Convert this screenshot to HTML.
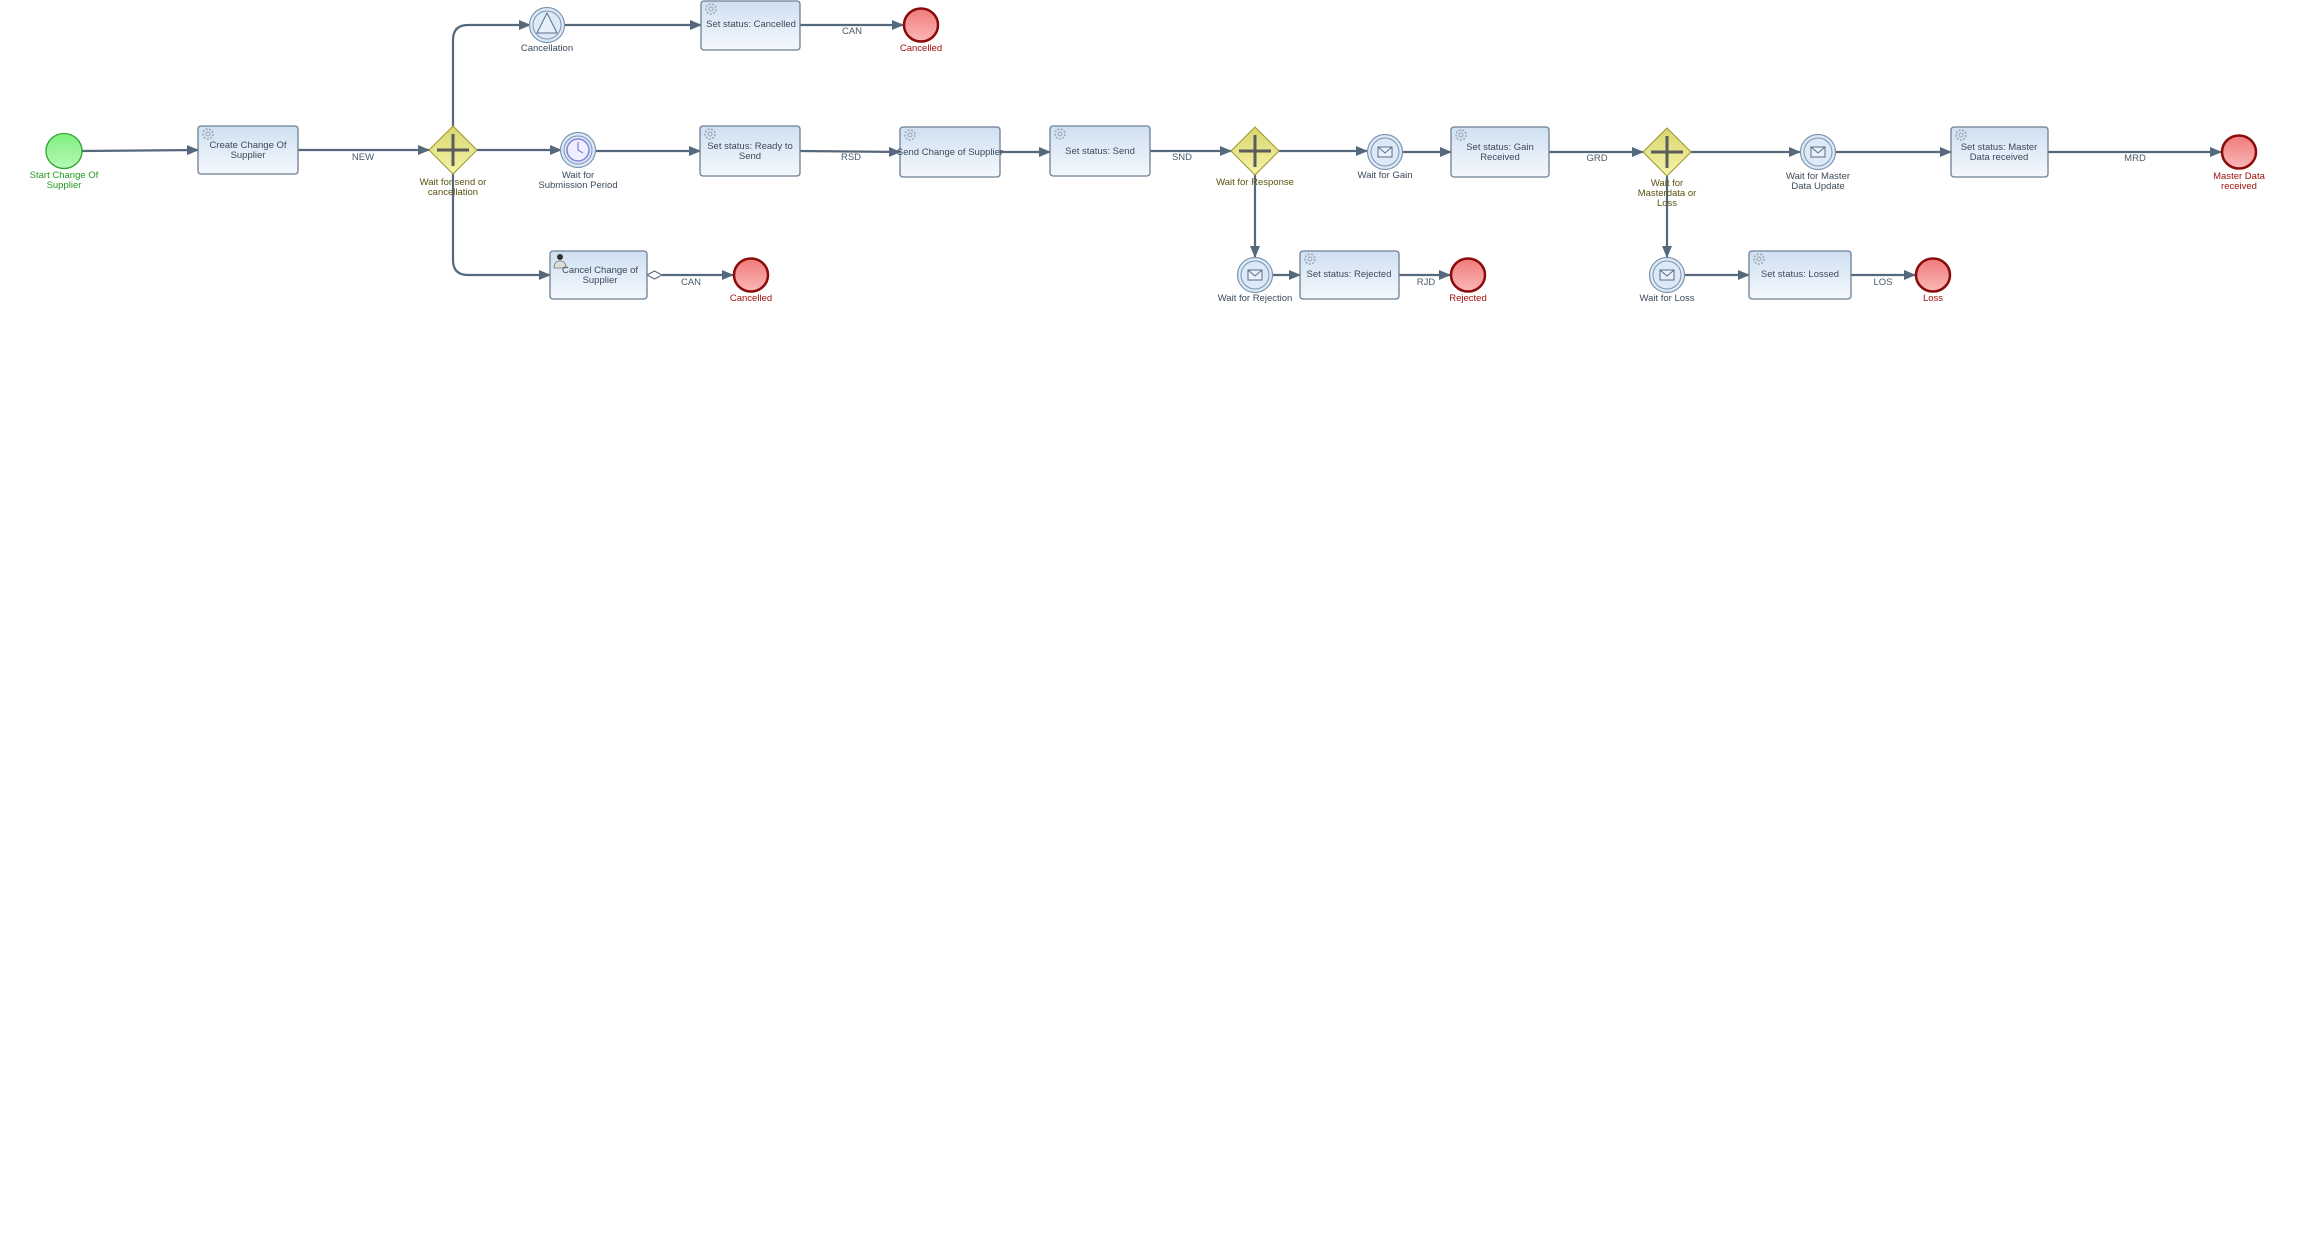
<!DOCTYPE html>
<html><head><meta charset="utf-8"><style>
html,body{margin:0;padding:0;background:#fff;}
svg{display:block;}
text{font-family:"Liberation Sans",sans-serif;font-size:9.5px;text-anchor:middle;}
.t{fill:#3d4a5a;}
.lbl{fill:#4a5a6c;}
.g{fill:#1f9a1f;}
.r{fill:#a01010;}
.y{fill:#5a5410;}
.ln{stroke:#56687b;stroke-width:2.2;fill:none;}
.task{fill:url(#tg);stroke:#6c7f93;stroke-width:1.3;}
.ev{fill:#dce9f6;stroke:#7d95b0;stroke-width:1.2;}
.end{fill:url(#rg);stroke:#8b0a0a;stroke-width:2.5;}
.gw{fill:url(#yg);stroke:#9a9630;stroke-width:1;}
</style></head><body>
<svg width="2318" height="1235" viewBox="0 0 2318 1235" xmlns="http://www.w3.org/2000/svg">
<defs>
<linearGradient id="tg" x1="0" y1="0" x2="0" y2="1"><stop offset="0" stop-color="#cfe0f2"/><stop offset="1" stop-color="#f4f8fc"/></linearGradient>
<linearGradient id="rg" x1="0" y1="0" x2="0" y2="1"><stop offset="0" stop-color="#f07a7a"/><stop offset="1" stop-color="#fbb8b8"/></linearGradient>
<linearGradient id="gg" x1="0" y1="0" x2="0" y2="1"><stop offset="0" stop-color="#7ef07e"/><stop offset="1" stop-color="#b8f8b8"/></linearGradient>
<linearGradient id="yg" x1="0" y1="0" x2="0" y2="1"><stop offset="0" stop-color="#d8d670"/><stop offset="1" stop-color="#f6f4a8"/></linearGradient>
<marker id="a" markerWidth="12" markerHeight="10" refX="11" refY="5" orient="auto" markerUnits="userSpaceOnUse"><path d="M0,0 L12,5 L0,10 Z" fill="#56687b"/></marker>
<g id="gear"><circle r="5" fill="none" stroke="#9aa5b0" stroke-width="1.5" stroke-dasharray="2 1.5"/><circle r="2" fill="none" stroke="#9aa5b0" stroke-width="1"/></g>
<g id="env"><rect x="-7" y="-5" width="14" height="10" fill="#e8f1fa" stroke="#5a6d85" stroke-width="1"/><path d="M-7,-5 L0,1 L7,-5" fill="none" stroke="#5a6d85" stroke-width="1"/></g>
</defs>

<!-- connectors -->
<path class="ln" d="M82,151 L198,150" marker-end="url(#a)"/>
<path class="ln" d="M298,150 L429,150" marker-end="url(#a)"/>
<path class="ln" d="M477,150 L561,150" marker-end="url(#a)"/>
<path class="ln" d="M595,151 L700,151" marker-end="url(#a)"/>
<path class="ln" d="M453,126 L453,40 Q453,25 468,25 L530,25" marker-end="url(#a)"/>
<path class="ln" d="M564,25 L701,25" marker-end="url(#a)"/>
<path class="ln" d="M800,25 L903,25" marker-end="url(#a)"/>
<path class="ln" d="M453,174 L453,260 Q453,275 468,275 L550,275" marker-end="url(#a)"/>
<path class="ln" d="M662,275 L733,275" marker-end="url(#a)"/>
<path d="M647,275 L654.5,271 L662,275 L654.5,279 Z" fill="#fff" stroke="#56687b" stroke-width="1"/>
<path class="ln" d="M800,151 L900,152" marker-end="url(#a)"/>
<path class="ln" d="M1000,152 L1050,152" marker-end="url(#a)"/>
<path class="ln" d="M1150,151 L1231,151" marker-end="url(#a)"/>
<path class="ln" d="M1279,151 L1367,151" marker-end="url(#a)"/>
<path class="ln" d="M1403,152 L1451,152" marker-end="url(#a)"/>
<path class="ln" d="M1255,175 L1255,257" marker-end="url(#a)"/>
<path class="ln" d="M1273,275 L1300,275" marker-end="url(#a)"/>
<path class="ln" d="M1399,275 L1450,275" marker-end="url(#a)"/>
<path class="ln" d="M1549,152 L1643,152" marker-end="url(#a)"/>
<path class="ln" d="M1691,152 L1800,152" marker-end="url(#a)"/>
<path class="ln" d="M1836,152 L1951,152" marker-end="url(#a)"/>
<path class="ln" d="M2048,152 L2221,152" marker-end="url(#a)"/>
<path class="ln" d="M1667,176 L1667,257" marker-end="url(#a)"/>
<path class="ln" d="M1685,275 L1749,275" marker-end="url(#a)"/>
<path class="ln" d="M1851,275 L1915,275" marker-end="url(#a)"/>

<!-- labels on flows -->
<text class="lbl" x="363" y="160">NEW</text>
<text class="lbl" x="852" y="34">CAN</text>
<text class="lbl" x="691" y="285">CAN</text>
<text class="lbl" x="851" y="160">RSD</text>
<text class="lbl" x="1182" y="160">SND</text>
<text class="lbl" x="1426" y="285">RJD</text>
<text class="lbl" x="1597" y="161">GRD</text>
<text class="lbl" x="2135" y="161">MRD</text>
<text class="lbl" x="1883" y="285">LOS</text>

<!-- start -->
<ellipse cx="64" cy="151" rx="18" ry="17.5" fill="url(#gg)" stroke="#2aa52a" stroke-width="1.3"/>
<text class="g" x="64" y="178">Start Change Of</text>
<text class="g" x="64" y="188">Supplier</text>

<!-- tasks -->
<rect class="task" x="198" y="126" width="100" height="48" rx="3"/><use href="#gear" x="208" y="134"/>
<text class="t" x="248" y="148">Create Change Of</text><text class="t" x="248" y="158">Supplier</text>

<rect class="task" x="701" y="1" width="99" height="49" rx="3"/><use href="#gear" x="711" y="9"/>
<text class="t" x="751" y="27">Set status: Cancelled</text>

<rect class="task" x="700" y="126" width="100" height="50" rx="3"/><use href="#gear" x="710" y="134"/>
<text class="t" x="750" y="149">Set status: Ready to</text><text class="t" x="750" y="159">Send</text>

<rect class="task" x="550" y="251" width="97" height="48" rx="3"/>
<circle cx="560" cy="257" r="3" fill="#333"/><path d="M554,268 Q554,261 560,261 Q566,261 566,268 Z" fill="#ddd" stroke="#777" stroke-width="0.8"/>
<text class="t" x="600" y="273">Cancel Change of</text><text class="t" x="600" y="283">Supplier</text>

<rect class="task" x="900" y="127" width="100" height="50" rx="3"/><use href="#gear" x="910" y="135"/>
<text class="t" x="950" y="155">Send Change of Supplier</text>

<rect class="task" x="1050" y="126" width="100" height="50" rx="3"/><use href="#gear" x="1060" y="134"/>
<text class="t" x="1100" y="154">Set status: Send</text>

<rect class="task" x="1451" y="127" width="98" height="50" rx="3"/><use href="#gear" x="1461" y="135"/>
<text class="t" x="1500" y="150">Set status: Gain</text><text class="t" x="1500" y="160">Received</text>

<rect class="task" x="1300" y="251" width="99" height="48" rx="3"/><use href="#gear" x="1310" y="259"/>
<text class="t" x="1349" y="277">Set status: Rejected</text>

<rect class="task" x="1951" y="127" width="97" height="50" rx="3"/><use href="#gear" x="1961" y="135"/>
<text class="t" x="1999" y="150">Set status: Master</text><text class="t" x="1999" y="160">Data received</text>

<rect class="task" x="1749" y="251" width="102" height="48" rx="3"/><use href="#gear" x="1759" y="259"/>
<text class="t" x="1800" y="277">Set status: Lossed</text>

<!-- gateways -->
<g transform="translate(453,150)"><path class="gw" d="M0,-24 L24,0 L0,24 L-24,0 Z"/><path d="M-16,0 L16,0 M0,-16 L0,16" stroke="#5c5c5c" stroke-width="3"/></g>
<text class="y" x="453" y="185">Wait for send or</text><text class="y" x="453" y="195">cancellation</text>
<g transform="translate(1255,151)"><path class="gw" d="M0,-24 L24,0 L0,24 L-24,0 Z"/><path d="M-16,0 L16,0 M0,-16 L0,16" stroke="#5c5c5c" stroke-width="3"/></g>
<text class="y" x="1255" y="185">Wait for Response</text>
<g transform="translate(1667,152)"><path class="gw" d="M0,-24 L24,0 L0,24 L-24,0 Z"/><path d="M-16,0 L16,0 M0,-16 L0,16" stroke="#5c5c5c" stroke-width="3"/></g>
<text class="y" x="1667" y="186">Wait for</text><text class="y" x="1667" y="196">Masterdata or</text><text class="y" x="1667" y="206">Loss</text>

<!-- intermediate events -->
<g transform="translate(547,25)"><circle class="ev" r="17.5"/><circle r="14" fill="none" stroke="#7d95b0" stroke-width="1"/><path d="M0,-12 L10,8 L-10,8 Z" fill="#e8f1fa" stroke="#5a6d85" stroke-width="1"/></g>
<text class="t" x="547" y="51">Cancellation</text>
<g transform="translate(578,150)"><circle class="ev" r="17.5"/><circle r="14" fill="none" stroke="#7d95b0" stroke-width="1"/><circle r="11" fill="#eef0ff" stroke="#8a7fe0" stroke-width="1.5"/><path d="M0,-8 L0,0 L5,3" stroke="#8a7fe0" stroke-width="1.3" fill="none"/></g>
<text class="t" x="578" y="178">Wait for</text><text class="t" x="578" y="188">Submission Period</text>
<g transform="translate(1385,152)"><circle class="ev" r="17.5"/><circle r="14" fill="none" stroke="#7d95b0" stroke-width="1"/><use href="#env"/></g>
<text class="t" x="1385" y="178">Wait for Gain</text>
<g transform="translate(1255,275)"><circle class="ev" r="17.5"/><circle r="14" fill="none" stroke="#7d95b0" stroke-width="1"/><use href="#env"/></g>
<text class="t" x="1255" y="301">Wait for Rejection</text>
<g transform="translate(1818,152)"><circle class="ev" r="17.5"/><circle r="14" fill="none" stroke="#7d95b0" stroke-width="1"/><use href="#env"/></g>
<text class="t" x="1818" y="179">Wait for Master</text><text class="t" x="1818" y="189">Data Update</text>
<g transform="translate(1667,275)"><circle class="ev" r="17.5"/><circle r="14" fill="none" stroke="#7d95b0" stroke-width="1"/><use href="#env"/></g>
<text class="t" x="1667" y="301">Wait for Loss</text>

<!-- end events -->
<ellipse class="end" cx="921" cy="25" rx="17" ry="16.5"/><text class="r" x="921" y="51">Cancelled</text>
<ellipse class="end" cx="751" cy="275" rx="17" ry="16.5"/><text class="r" x="751" y="301">Cancelled</text>
<ellipse class="end" cx="1468" cy="275" rx="17" ry="16.5"/><text class="r" x="1468" y="301">Rejected</text>
<ellipse class="end" cx="2239" cy="152" rx="17" ry="16.5"/><text class="r" x="2239" y="179">Master Data</text><text class="r" x="2239" y="189">received</text>
<ellipse class="end" cx="1933" cy="275" rx="17" ry="16.5"/><text class="r" x="1933" y="301">Loss</text>
</svg>
</body></html>
